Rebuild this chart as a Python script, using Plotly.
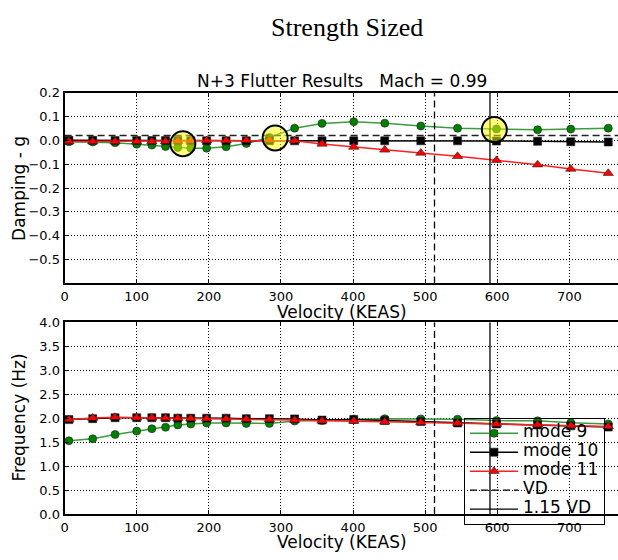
import plotly.graph_objects as go

# ---------------- data ----------------
velocity = [6, 39, 70, 100, 121, 140, 157, 175, 197, 224, 252, 284, 319, 357,
            401, 444, 494, 545, 599, 656, 702, 754]

damp_mode9 = [-0.006, -0.007, -0.010, -0.016, -0.020, -0.026, -0.030, -0.033,
              -0.033, -0.027, -0.013, 0.012, 0.051, 0.071, 0.078, 0.072,
              0.060, 0.051, 0.048, 0.044, 0.047, 0.051]
damp_mode10 = [0.000, 0.000, -0.001, -0.001, -0.001, -0.001, -0.001, -0.002,
               -0.002, -0.002, -0.002, -0.002, -0.002, -0.002, -0.002, -0.002,
               -0.002, -0.002, -0.003, -0.004, -0.006, -0.007]
damp_mode11 = [-0.005, -0.005, -0.005, -0.005, -0.005, -0.004, -0.003, -0.002,
               -0.001, -0.001, 0.000, 0.001, -0.002, -0.015, -0.028, -0.040,
               -0.053, -0.067, -0.084, -0.102, -0.120, -0.138]

freq_mode9 = [1.53, 1.57, 1.66, 1.73, 1.78, 1.81, 1.86, 1.88, 1.90, 1.90, 1.89,
              1.89, 1.94, 1.95, 1.98, 1.99, 1.985, 1.98, 1.95, 1.945, 1.905, 1.88]
freq_mode10 = [1.97, 1.99, 2.01, 2.01, 2.01, 2.01, 2.00, 2.00, 2.00, 2.00, 1.99,
               1.99, 1.985, 1.96, 1.975, 1.95, 1.93, 1.90, 1.88, 1.86, 1.84, 1.815]
freq_mode11 = [1.97, 2.005, 2.02, 2.01, 2.01, 2.005, 2.00, 1.995, 1.99, 1.985,
               1.98, 1.975, 1.96, 1.945, 1.94, 1.925, 1.91, 1.897, 1.877, 1.863,
               1.842, 1.829]

# crossing markers (velocity, damping)
cross_v = [164, 292, 596]
cross_g = [-0.014, 0.010, 0.045]

VD = 513
VD115 = 1.15 * VD
g_req = 0.02

x_ticks = [0, 100, 200, 300, 400, 500, 600, 700]
damp_ticks = [-0.5, -0.4, -0.3, -0.2, -0.1, 0.0, 0.1, 0.2]
freq_ticks = [0.0, 0.5, 1.0, 1.5, 2.0, 2.5, 3.0, 3.5, 4.0]
x_range = [0, 767.5]
damp_range = [-0.6, 0.2]
freq_range = [0.0, 4.0]

W, H = 618, 560
FONT = "DejaVu Sans"

fig = go.Figure()

modes = [
    ("mode 9", "#008000", "#3c9c3c", "circle", 8),
    ("mode 10", "#000000", "#000000", "square", 8),
    ("mode 11", "#ff0000", "#ff2020", "triangle-up", 9),
]
damps = [damp_mode9, damp_mode10, damp_mode11]
freqs = [freq_mode9, freq_mode10, freq_mode11]


def leg(txt):
    return '<span style="font-size:17px">' + txt + '</span>'


for (name, mc, lc, sym, sz), g in zip(modes, damps):
    fig.add_trace(go.Scatter(
        x=velocity, y=g, mode="lines+markers", name=leg(name), showlegend=False,
        line=dict(color=lc, width=1.5),
        marker=dict(symbol=sym, size=sz, color=mc, line=dict(color="#222", width=0.6)),
        xaxis="x", yaxis="y"))

for (name, mc, lc, sym, sz), f in zip(modes, freqs):
    fig.add_trace(go.Scatter(
        x=velocity, y=f, mode="lines+markers", name=leg(name), showlegend=True,
        line=dict(color=lc, width=1.5),
        marker=dict(symbol=sym, size=sz, color=mc, line=dict(color="#222", width=0.6)),
        xaxis="x2", yaxis="y2"))

# VD lines
for axx, axy, rng, show in [("x", "y", damp_range, False), ("x2", "y2", freq_range, True)]:
    fig.add_trace(go.Scatter(
        x=[VD, VD], y=rng, mode="lines", name=leg("VD"), showlegend=show,
        line=dict(color="black", width=1.3, dash="7px,4px"),
        xaxis=axx, yaxis=axy))
    fig.add_trace(go.Scatter(
        x=[VD115, VD115], y=rng, mode="lines", name=leg("1.15 VD"), showlegend=show,
        line=dict(color="black", width=1.3),
        xaxis=axx, yaxis=axy))

# required damping line
fig.add_trace(go.Scatter(
    x=x_range, y=[g_req, g_req], mode="lines", showlegend=False,
    line=dict(color="#222", width=1.5, dash="7px,4px"),
    xaxis="x", yaxis="y"))

# crossing circles
fig.add_trace(go.Scatter(
    x=cross_v, y=cross_g, mode="markers", showlegend=False,
    marker=dict(symbol="circle", size=25, color="rgba(255,255,0,0.5)",
                line=dict(color="black", width=2)),
    xaxis="x", yaxis="y"))

x0 = 61 / W
top_dom = [1 - 284 / H, 1 - 88 / H]
bot_dom = [1 - 521 / H, 1 - 324 / H]

axis_common = dict(
    showline=True, linecolor="black", linewidth=2,
    showgrid=True, gridcolor="black", gridwidth=1, griddash="1px,2px",
    zeroline=False, ticks="inside", ticklen=4, tickcolor="black",
    tickfont=dict(family=FONT, size=13, color="black"),
)

fig.update_layout(
    width=W, height=H,
    margin=dict(l=0, r=0, t=0, b=0),
    paper_bgcolor="white", plot_bgcolor="white",
    font=dict(family=FONT, color="black"),
    xaxis=dict(domain=[x0, 1], range=x_range, tickvals=x_ticks, mirror="ticks",
               anchor="y", **axis_common),
    yaxis=dict(domain=top_dom, range=damp_range, tickvals=damp_ticks,
               tickformat=".1f", anchor="x", **axis_common),
    xaxis2=dict(domain=[x0, 1], range=x_range, tickvals=x_ticks, mirror="ticks",
                anchor="y2", **axis_common),
    yaxis2=dict(domain=bot_dom, range=freq_range, tickvals=freq_ticks,
                tickformat=".1f", anchor="x2", **axis_common),
    legend=dict(x=463 / W, y=1 - 422 / H, xanchor="left", yanchor="top",
                bgcolor="rgba(0,0,0,0)", bordercolor="black", borderwidth=1,
                font=dict(family=FONT, size=11, color="black"),
                tracegroupgap=0, itemwidth=48),
    showlegend=True,
)

ann = [
    dict(text="Strength Sized", x=345 / W, y=1 - 21 / H,
         font=dict(family="Liberation Serif", size=26, color="black")),
    dict(text="N+3 Flutter Results\u00a0\u00a0\u00a0Mach = 0.99", x=340 / W, y=1 - 76 / H,
         font=dict(family=FONT, size=17, color="black")),
    dict(text="Velocity (KEAS)", x=340 / W, y=1 - 313 / H,
         font=dict(family=FONT, size=17, color="black")),
    dict(text="Velocity (KEAS)", x=340 / W, y=1 - 550 / H,
         font=dict(family=FONT, size=17, color="black")),
    dict(text="Damping - g", x=15 / W, y=1 - 186 / H, textangle=-90,
         font=dict(family=FONT, size=17, color="black")),
    dict(text="Frequency (Hz)", x=15 / W, y=1 - 422 / H, textangle=-90,
         font=dict(family=FONT, size=17, color="black")),
]
for a in ann:
    a.update(xref="paper", yref="paper", showarrow=False,
             xanchor="center", yanchor="middle")
fig.update_layout(annotations=ann)

fig.write_html(
    "out.html",
    config={"displayModeBar": False},
    post_script=("document.documentElement.style.margin='0';"
                 "document.documentElement.style.overflow='hidden';"
                 "document.body.style.margin='0';"
                 "document.body.style.padding='0';"
                 "document.body.style.overflow='hidden';"),
)
